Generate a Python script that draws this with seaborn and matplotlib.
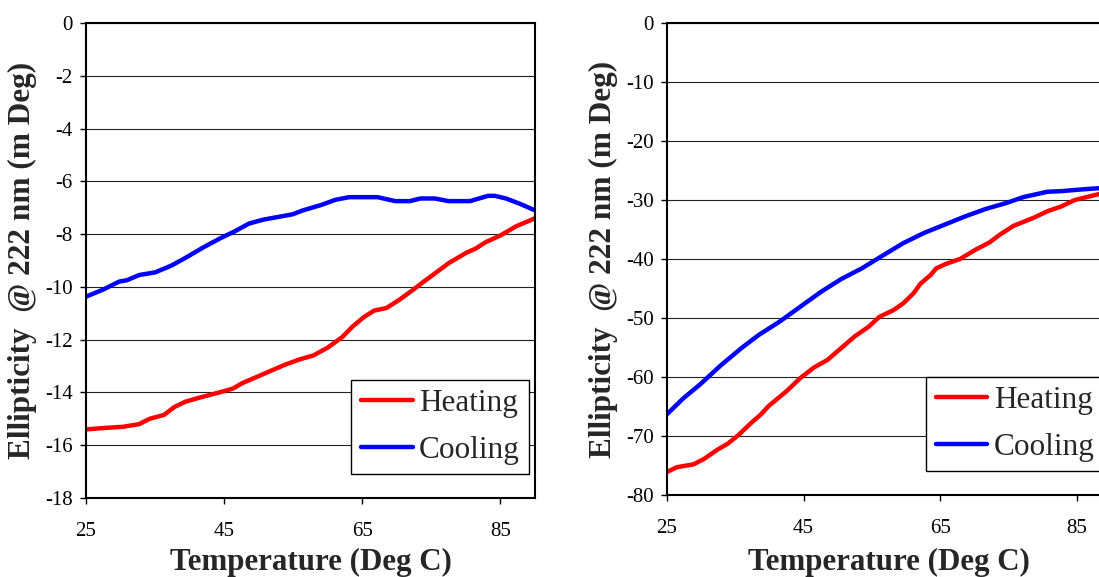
import numpy as np
import pandas as pd
import matplotlib
matplotlib.use("Agg")
import matplotlib.pyplot as plt
import seaborn as sns

# ---- Left panel: ellipticity at 222 nm, heating vs cooling ----
left_heat_temp = [25, 27.5, 30.4, 32.7, 34.2, 36.3, 37.8, 39.4, 41.4, 45, 46.3, 47.6,
                  50.7, 53.8, 55.9, 57.9, 60, 62.1, 63.6, 65.2, 66.7, 68.5, 70.3,
                  72.4, 73.9, 75.2, 77.5, 80.1, 81.4, 82.9, 85, 87.3, 90]
left_heat_ell = [-15.4, -15.35, -15.3, -15.2, -15.0, -14.85, -14.55, -14.35, -14.2,
                 -13.95, -13.85, -13.65, -13.3, -12.95, -12.75, -12.6, -12.3, -11.9,
                 -11.5, -11.15, -10.9, -10.8, -10.5, -10.1, -9.8, -9.55, -9.1, -8.7,
                 -8.55, -8.3, -8.05, -7.7, -7.4]

left_cool_temp = [25, 27.5, 29.8, 30.9, 32.7, 35, 37.3, 39.4, 42, 44.5, 46.5, 48.6,
                  50.7, 52.8, 54.9, 56.4, 59, 61.1, 63.1, 67.2, 69.8, 71.9, 73.4,
                  75.5, 77.5, 80.6, 83.2, 84.2, 85.8, 87.8, 90]
left_cool_ell = [-10.37, -10.1, -9.8, -9.75, -9.55, -9.45, -9.2, -8.9, -8.5, -8.15,
                 -7.9, -7.6, -7.45, -7.35, -7.25, -7.1, -6.9, -6.7, -6.6, -6.6,
                 -6.75, -6.75, -6.65, -6.65, -6.75, -6.75, -6.55, -6.55, -6.65,
                 -6.85, -7.1]

# ---- Right panel ----
right_heat_temp = [25, 26.4, 28.9, 30.4, 32.4, 33.9, 35.4, 37.4, 38.7, 39.9, 42.5,
                   44.5, 46.5, 48.5, 51, 52.5, 54.5, 56.1, 58.1, 59.6, 61.1, 62.1,
                   63.6, 64.4, 65.9, 67.9, 70.2, 72.2, 73.7, 75.7, 78.7, 80.7, 82.7,
                   84.7, 86.8, 88.2, 90]
right_heat_ell = [-76.1, -75.3, -74.8, -73.9, -72.3, -71.3, -69.9, -67.7, -66.4,
                  -64.9, -62.4, -60.2, -58.4, -57.1, -54.6, -53.1, -51.5, -49.8,
                  -48.7, -47.5, -45.8, -44.2, -42.7, -41.6, -40.8, -40.0, -38.4,
                  -37.2, -35.9, -34.4, -33.0, -31.9, -31.1, -30.0, -29.4, -29.0,
                  -28.8]

right_cool_temp = [25, 27.4, 29.9, 32.9, 35.9, 38.4, 41.5, 44.5, 47.5, 50.5, 53.5,
                   56.6, 59.6, 62.6, 65.6, 68.6, 71.7, 74.7, 77.2, 80.7, 82.7, 85.8,
                   88.2, 90]
right_cool_ell = [-66.3, -63.6, -61.2, -58.0, -55.1, -52.9, -50.6, -48.1, -45.6,
                  -43.4, -41.6, -39.4, -37.3, -35.6, -34.2, -32.8, -31.5, -30.5,
                  -29.5, -28.6, -28.5, -28.2, -28.0, -27.9]

series_names = ["Heating", "Cooling"]
series_colors = {"Heating": "#FF0000", "Cooling": "#0000FF"}

x_ticks = [25, 45, 65, 85]
left_y_ticks = list(range(-18, 1, 2))
right_y_ticks = list(range(-80, 1, 10))

x_label = "Temperature (Deg C)"
y_label = "Ellipticity  @ 222 nm (m Deg)"


def long_table(heat_t, heat_v, cool_t, cool_v):
    return pd.concat([
        pd.DataFrame({"T": heat_t, "E": heat_v, "run": "Heating"}),
        pd.DataFrame({"T": cool_t, "E": cool_v, "run": "Cooling"}),
    ], ignore_index=True)


sns.set_style("ticks")
plt.rcParams["font.family"] = ["Liberation Serif", "DejaVu Serif"]
plt.rcParams["axes.unicode_minus"] = False

fig = plt.figure(figsize=(10.99, 5.77), dpi=100)
ax_l = fig.add_axes([86 / 1099, 1 - 498 / 577, 449 / 1099, 475 / 577])
ax_r = fig.add_axes([667 / 1099, 1 - 495 / 577, 444 / 1099, 472 / 577])

panels = [
    (ax_l, long_table(left_heat_temp, left_heat_ell, left_cool_temp, left_cool_ell),
     (-18, 0), left_y_ticks, (0.987, 0.0505), 4.5),
    (ax_r, long_table(right_heat_temp, right_heat_ell, right_cool_temp, right_cool_ell),
     (-80, 0), right_y_ticks, (0.984, 0.051), 6.6),
]

for ax, df, ylim, yticks, leg_anchor, xpad in panels:
    sns.lineplot(data=df, x="T", y="E", hue="run", hue_order=series_names,
                 palette=series_colors, linewidth=3.2, ax=ax, estimator=None,
                 sort=True)
    ax.set_xlim(25, 90)
    ax.set_ylim(*ylim)
    ax.set_xticks(x_ticks)
    ax.set_yticks(yticks)
    ax.set_yticklabels([str(v) for v in yticks])
    ax.yaxis.grid(True, color="#222222", linewidth=0.8)
    ax.xaxis.grid(False)
    ax.set_axisbelow(True)
    for side in ["left", "right", "top", "bottom"]:
        ax.spines[side].set_visible(True)
        ax.spines[side].set_color("black")
        ax.spines[side].set_linewidth(1.5)
    ax.tick_params(axis="x", direction="out", length=4.5, width=1.0,
                   pad=13, labelsize=15, colors="black")
    ax.tick_params(axis="y", direction="out", length=4.5, width=1.0,
                   pad=5, labelsize=15, colors="black")
    ax.set_xlabel(x_label, fontsize=22.3, fontweight="bold", labelpad=xpad)
    ax.set_ylabel(y_label, fontsize=22.5, fontweight="bold", labelpad=6)

    handles, labels = ax.get_legend_handles_labels()
    leg = ax.legend(handles, labels, loc="lower right", bbox_to_anchor=leg_anchor,
                    borderaxespad=0, fontsize=22.5, frameon=True, fancybox=False,
                    handlelength=1.66, handletextpad=0.2, borderpad=0.3,
                    labelspacing=0.56, framealpha=1)
    frame = leg.get_frame()
    frame.set_edgecolor("black")
    frame.set_linewidth(1.0)

fig.savefig("out.png", dpi=100)
